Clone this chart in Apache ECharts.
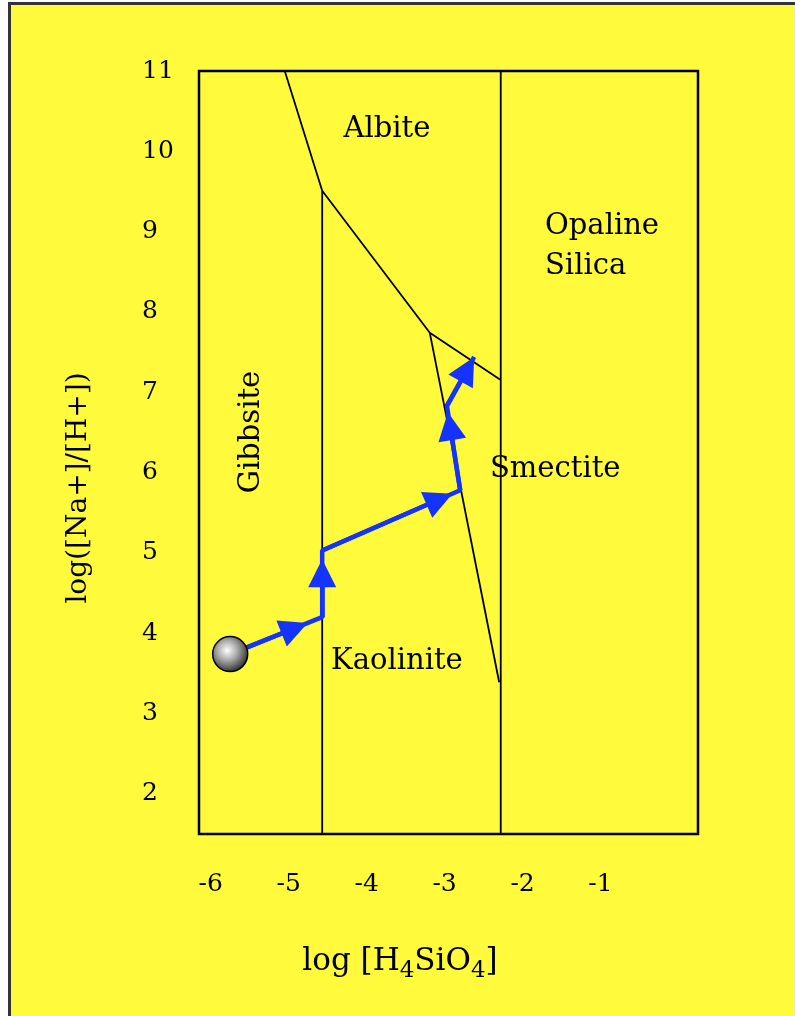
<!DOCTYPE html>
<html lang="en">
<head>
<meta charset="UTF-8">
<title>Na silicate stability diagram</title>
<style>
    * {
        margin: 0;
        padding: 0;
    }

    body {
        background: #fff;
    }

    .echarts {
        width: 795px;
        height: 1016px;
    }
</style>
<script src="https://cdn.jsdelivr.net/npm/echarts@6/dist/echarts.min.js"></script>
</head>

<body>
<div id="echarts" class="echarts"></div>

<script>
// axis ticks and extents
var xTicks = [-6, -5, -4, -3, -2, -1];
var yTicks = [2, 3, 4, 5, 6, 7, 8, 9, 10, 11];
var xRange = [-6.15, 0.25];
var yRange = [1.5, 11];

// phase boundaries [log H4SiO4, log(Na/H)]
var albiteEdge = [[-5.05, 11], [-4.57, 9.51], [-3.19, 7.74], [-2.29, 7.16]];
var smectiteEdge = [[-3.19, 7.74], [-2.30, 3.39]];
var gibbsiteEdge = [[-4.57, 9.51], [-4.57, 1.5]];
var silicaEdge = [[-2.28, 11], [-2.28, 1.5]];

// weathering path
var pathX = [-5.75, -4.57, -4.57, -2.80, -2.97, -2.62];
var pathY = [3.74, 4.20, 5.03, 5.78, 6.83, 7.44];
var arrowAt = [0.70, 0.66, 0.85, 0.76, 0.75]; // where the arrowhead sits on each leg

var regions = ['Albite', 'Opaline\nSilica', 'Gibbsite', 'Smectite', 'Kaolinite'];

var yellow = '#fffa3c';
var serif = '"DejaVu Serif", serif';

var chart = echarts.init(document.getElementById('echarts'));

function boundary(pts) {
    return {
        type: 'line',
        data: pts,
        symbol: 'none',
        silent: true,
        lineStyle: { color: '#000', width: 1.8 },
        z: 3
    };
}

var pathPts = pathX.map(function (x, i) { return [x, pathY[i]]; });
var arrows = [];
for (var i = 0; i < pathPts.length - 1; i++) {
    var a = pathPts[i], b = pathPts[i + 1], f = arrowAt[i];
    arrows.push({ coords: [a, [a[0] + (b[0] - a[0]) * f, a[1] + (b[1] - a[1]) * f]] });
}

var option = {
    animation: false,
    backgroundColor: '#fff',
    graphic: [
        { // yellow page with the dark edge at left/top
            type: 'rect', z: -10,
            shape: { x: 9.5, y: 3.5, width: 820, height: 1040 },
            style: { fill: yellow, stroke: '#333', lineWidth: 3 }
        },
        {
            type: 'text', x: 387, y: 129, z: 10,
            style: { text: regions[0], font: '29px ' + serif, fill: '#000', textAlign: 'center', textVerticalAlign: 'middle' }
        },
        {
            type: 'text', x: 545, y: 246, z: 10,
            style: { text: regions[1], font: '29px ' + serif, lineHeight: 40, fill: '#000', textAlign: 'left', textVerticalAlign: 'middle' }
        },
        {
            type: 'text', x: 251, y: 432, rotation: Math.PI / 2, z: 10,
            style: { text: regions[2], font: '29px ' + serif, fill: '#000', textAlign: 'center', textVerticalAlign: 'middle' }
        },
        {
            type: 'text', x: 490, y: 469, z: 10,
            style: { text: regions[3], font: '29px ' + serif, fill: '#000', textAlign: 'left', textVerticalAlign: 'middle' }
        },
        {
            type: 'text', x: 331, y: 661, z: 10,
            style: { text: regions[4], font: '29px ' + serif, fill: '#000', textAlign: 'left', textVerticalAlign: 'middle' }
        },
        { // y axis name
            type: 'text', x: 79, y: 488, rotation: Math.PI / 2, z: 10,
            style: { text: 'log([Na+]/[H+])', font: '28px ' + serif, fill: '#000', textAlign: 'center', textVerticalAlign: 'middle' }
        },
        { // x axis name with subscripts
            type: 'text', x: 400, y: 962, z: 10,
            style: {
                text: 'log [H{sub|4}SiO{sub|4}]',
                font: '31px ' + serif,
                lineHeight: 42,
                fill: '#000',
                textAlign: 'center',
                textVerticalAlign: 'middle',
                rich: {
                    sub: { fontSize: 23, fontFamily: serif, lineHeight: 22, verticalAlign: 'bottom', fill: '#000' }
                }
            }
        }
    ],
    grid: {
        left: 199,
        right: 97,
        top: 71,
        bottom: 182,
        show: true,
        borderColor: '#000',
        borderWidth: 2.5,
        backgroundColor: 'transparent'
    },
    xAxis: {
        type: 'value',
        min: xRange[0],
        max: xRange[1],
        axisLine: { show: false },
        axisTick: { show: false },
        splitLine: { show: false },
        axisLabel: {
            customValues: xTicks,
            margin: 38,
            fontFamily: serif,
            fontSize: 25,
            color: '#000'
        }
    },
    yAxis: {
        type: 'value',
        min: yRange[0],
        max: yRange[1],
        axisLine: { show: false },
        axisTick: { show: false },
        splitLine: { show: false },
        axisLabel: {
            customValues: yTicks,
            margin: 57,
            align: 'left',
            fontFamily: serif,
            fontSize: 25,
            color: '#000'
        }
    },
    series: [
        boundary(albiteEdge),
        boundary(smectiteEdge),
        boundary(gibbsiteEdge),
        boundary(silicaEdge),
        {
            type: 'line',
            data: pathPts,
            symbol: 'none',
            silent: true,
            lineStyle: { color: '#1433ff', width: 4.5 },
            z: 5
        },
        {
            type: 'lines',
            coordinateSystem: 'cartesian2d',
            data: arrows,
            symbol: ['none', 'triangle'],
            symbolSize: 28,
            silent: true,
            lineStyle: { color: '#1433ff', width: 4.5, opacity: 1 },
            z: 6
        },
        {
            type: 'scatter',
            data: [pathPts[0]],
            symbol: 'circle',
            symbolSize: 35,
            silent: true,
            itemStyle: {
                color: new echarts.graphic.RadialGradient(0.42, 0.4, 0.62, [
                    { offset: 0, color: '#ffffff' },
                    { offset: 0.45, color: '#a8a8a8' },
                    { offset: 1, color: '#2a2a2a' }
                ]),
                borderColor: '#000',
                borderWidth: 1.5,
                opacity: 1
            },
            z: 8
        }
    ]
};

chart.setOption(option);
</script>
</body>
</html>
